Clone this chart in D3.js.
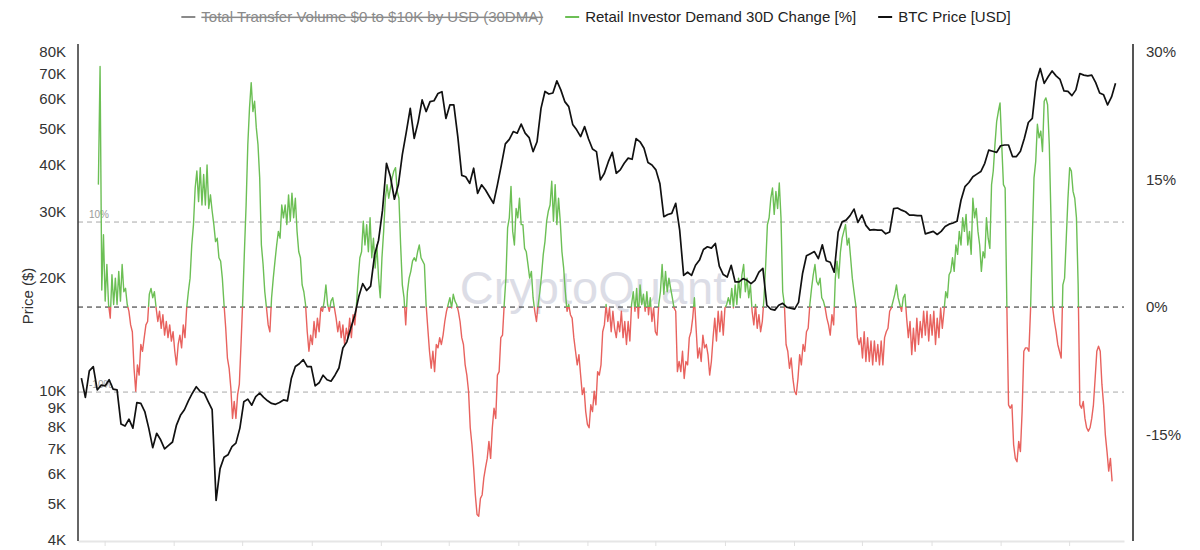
<!DOCTYPE html>
<html lang="en">
<head>
<meta charset="UTF-8">
<title>Retail Investor Demand vs BTC Price</title>
<script src="https://d3js.org/d3.v7.min.js"></script>
<style>
  body { margin: 0; background: #fff; font-family: "Liberation Sans", Arial, sans-serif; }
  .tick text { font-family: "Liberation Sans", Arial, sans-serif; }
</style>
</head>
<body>
<div id="chart"></div>
<script>
// BTC price (USD), one value per week from 2019-07-22
const btcStart = new Date(2019, 6, 22);
const btcStepDays = 7;
const btcPrice = [
  10800, 9600, 11300, 11600, 10050, 10350, 10300, 10700, 10100, 10050,
  8150, 8050, 8400, 7950, 9300, 9250, 8800, 7950, 7050, 7700,
  7400, 7000, 7150, 7300, 8100, 8600, 8900, 9400, 9850, 10250,
  9950, 9850, 9350, 8900, 5100, 6200, 6650, 6750, 7100, 7250,
  7950, 9350, 9500, 9150, 9650, 9850, 9600, 9400, 9250, 9200,
  9300, 9450, 9400,
  10800, 11600, 11800, 12100, 11600, 11600, 10300, 10500, 11000, 10700,
  10600, 11000, 11500, 13000, 13500, 14700, 15900, 17800, 19300, 18500,
  19000, 23000, 25200, 30300, 40400, 37200, 32400, 35400, 42600, 48900,
  56600, 47100, 52100, 59600, 55500, 59000, 59300, 62000, 62700, 53200,
  57800, 57800, 47600, 37500, 37200, 35700, 39200, 33600, 35400, 34300,
  32900, 31600, 35400,
  40000, 45500, 46800, 49100, 48600, 51400, 48600, 47300, 43400, 46100,
  56600, 62800, 61800, 62200, 67000, 63400, 59000, 57200, 51300, 49600,
  47600, 50600, 46900, 44100, 43400, 36500, 38000, 40800, 43200, 38000,
  38800, 40400, 41700, 41400, 47000, 46100, 44300, 40600, 40000, 38800,
  35700, 29100, 29500, 29700, 31600, 26800, 20300, 20700, 20300, 21600,
  22300, 23800, 24200,
  24000, 24700, 21500, 20400, 20100, 21600, 19500, 19500, 19900, 19700,
  19300, 19700, 20700, 21200, 16900, 16500, 16400, 16900, 17100, 16700,
  16600, 16500, 17200, 20500, 22900, 23200, 23500, 22500, 24500, 22200,
  22000, 20700, 26500, 28200, 28500, 29300, 30500, 28100, 29400, 27600,
  26800, 26900, 26800, 26800, 26200, 26500, 30600, 30700, 30300, 30000,
  29400, 29400, 29300, 29300,
  26200, 26400, 26600, 26100, 26600, 27400, 27800, 28000, 28300, 32200,
  35000, 35900, 37200, 37800, 38400, 40400, 43800, 43500, 43200, 45000,
  45200, 45200, 42100, 42100, 43500, 47100, 51900, 53200, 66600, 72300,
  66000, 68700, 71200, 69100, 67600, 63000, 62800, 61200, 63400, 70100,
  69400, 69100, 69400, 66300, 62200, 61500, 57800, 60700, 66000
];

// Retail investor demand, 30D change (%), one value every 3 days from 2019-08-21
const retailStart = new Date(2019, 7, 21);
const retailStepDays = 3;
const retailChange = [
  14.4, 28.3, 2.0, 8.5, 0.7, 5.0, 0.3, -1.3, 3.8, 0.3,
  3.4, 0.3, 4.2, 0.7, 5.0, 1.8, 2.2, 0.3, -0.5, -2.1,
  -2.9, -7.2, -9.9, -6.8, -8.0, -4.4, -5.2, -3.6, -2.1, -1.7,
  1.5, 2.2, 1.1, 1.8, -0.1, -1.7, -0.5, -2.5, -0.9, -3.3,
  -1.7, -3.6, -2.1, -4.0, -2.9, -5.2, -6.8, -4.4, -3.3, -4.8,
  -2.1, -3.6, -0.1, 1.8, 3.4, 7.3, 9.7, 14.0, 16.0, 12.4,
  16.4, 12.0, 15.6, 12.0, 16.7, 11.6, 13.2, 11.3, 9.7, 7.7,
  8.1, 5.8, 5.4, 3.4, 0.3, -2.5, -6.0, -7.2, -9.5, -13.1,
  -11.1, -13.1, -10.3, -9.1, -4.4, 0.7, 6.5, 12.0, 19.1, 23.4,
  26.4, 23.0, 24.2, 21.1, 19.1, 15.2, 7.3, 5.0, 1.8, -0.1,
  -2.1, -2.9, 1.1, 3.4, 5.4, 7.3, 8.9, 8.1, 12.0, 10.5,
  // 2020 H2
  12.0, 9.7, 13.2, 10.1, 13.4, 10.5, 12.8, 8.9, 6.5, 5.8,
  2.6, 1.8, 0.3, -2.9, -5.2, -3.3, -4.4, -1.7, -3.6, -1.3,
  -2.9, -0.1, -0.5, 0.7, 2.6, 0.3, -0.5, 0.7, 1.1, -0.1,
  -1.3, -2.9, -1.7, -3.6, -2.1, -4.4, -2.5, -3.6, -1.3, -3.6,
  -0.9, -2.1, 0.3, 3.4, 5.8, 6.5, 10.1, 7.3, 9.7, 6.5,
  10.5, 5.8, 8.1, 4.6, 7.3, 3.4, 1.1, 5.8, 8.9, 12.8,
  14.4, 12.8, 14.0, 15.2, 16.0, 16.4, 13.6, 12.8, 7.3, 2.6,
  1.1, -2.1, 1.8, 3.4, 4.2, 5.4, 5.8, 5.4, 6.5, 7.3,
  5.8, 5.4, 5.0, 0.3, -2.5, -5.2, -7.2, -5.2, -7.6, -4.4,
  -4.8, -3.6, -4.4, -3.3, -1.7, -0.5, 0.3, 1.1, -0.1, 1.5,
  0.7, 0.3, -0.5, -1.7, -3.6, -4.4, -6.8, -8.0, -9.9, -14.2,
  -16.2, -18.9, -22.1, -24.4, -24.6, -22.5, -22.1, -20.1, -18.9, -17.8,
  -15.8, -17.8, -14.2, -11.9,
  // 2021 H2 - 2022
  -13.1, -8.0, -7.6, -3.6, -3.3, 0.3, 3.4, 9.3, 10.5,
  14.2, 8.9, 7.3, 11.6, 10.5, 12.8, 9.7, 9.7, 6.9, 6.5,
  5.0, 3.4, 4.2, 1.1, -0.5, -1.7, 0.3, 1.8, 3.8, 6.2,
  7.7, 10.1, 11.3, 12.0, 14.8, 10.1, 14.4, 9.7, 12.8, 10.1,
  6.5, 4.6, 1.8, -0.5, 0.3, -0.9, -1.3, -3.6, -5.2, -6.8,
  -5.6, -8.0, -10.3, -9.5, -12.3, -13.8, -14.2, -11.5, -12.3,
  -9.9, -11.5, -7.6, -8.0, -6.8, -2.9, -2.1, 0.3, -1.7, -0.1,
  -2.9, -0.5, -2.5, -3.6, -1.7, -2.9, -0.5, -3.6, -1.7, -4.4,
  -1.7, -4.0, 0.3, 1.8, -0.5, 2.2, -1.3, 2.6, 0.3, 1.5,
  -0.5, 1.8, -0.9, 1.1, -1.7, -0.1, -2.9, -3.3, 0.3, 1.8,
  5.0, 1.5, 4.2, 1.8, 3.4, 2.2, 1.1, -0.1, -0.5, -7.6,
  -6.4, -7.6, -5.2, -8.4, -6.4, -6.8, -3.6, -2.9, -1.3, 1.1,
  -2.5, -6.0, -4.8, -6.4, -3.3, -4.8,
  // 2022 H2 - 2023
  -4.4, -5.6, -8.0, -6.4, -3.6, -1.3, -4.0, -0.5, -2.9, -0.5,
  -3.3, -0.1, 0.3, 1.1, 0.3, 2.2, -0.1, 2.6, 0.3, 3.4,
  1.1, 3.8, 5.0, 1.8, 3.4, 1.1, 2.6, -0.5, -2.1, 0.3,
  -2.5, -0.9, -2.9, -1.7, 1.1, 5.0, 9.7, 10.5, 12.8, 14.0,
  10.9, 13.6, 11.6, 14.6, 10.5, 1.8, 0.3, -4.4, -5.2,
  -7.2, -6.0, -8.4, -9.9, -10.3, -8.4, -5.6, -6.8, -4.4, -5.2,
  -2.9, -2.5, 0.3, 2.2, 3.8, 5.0, 3.0, 2.6, 3.4, 1.1,
  0.7, -0.1, -1.3, -2.1, -3.3, -0.9, -2.1, 3.4, 5.4, 3.4,
  6.5, 8.1, 8.9, 9.7, 7.3, 8.1, 5.8, 3.4, 1.8, 0.3,
  -3.6, -4.4, -3.6, -6.0, -2.9, -6.4, -3.6, -6.4, -4.0,
  -6.8, -4.0, -6.4, -4.4, -6.8, -4.0, -6.8, -3.6, -2.9, -2.5,
  -0.5, -0.1, 0.7, 1.5, 2.6, 1.1, 0.3, -0.5, 1.1, 1.5,
  -1.3, -3.6, -1.7, -5.6, -2.5, -5.2,
  // 2023 H2 - 2024
  -1.3, -4.4, -1.7, -3.6, -0.5, -3.3, -0.5, -4.0, -0.9, -3.3,
  -0.5, -4.4, -1.3, -3.6, -0.1, -2.5, -0.5, 1.8, 1.1, 3.8,
  4.2, 5.8, 4.2, 7.3, 6.2, 8.9, 7.3, 10.5, 8.9, 10.9,
  7.3, 8.9, 6.2, 12.8, 10.5, 11.6, 8.9, 7.3, 4.2, 6.5,
  5.8, 10.5, 8.1, 6.9, 14.4, 16.0, 19.1, 21.8, 23.0,
  24.0, 19.1, 14.4, 14.0, 0.3, -11.5, -11.9, -11.5, -16.2,
  -17.8, -18.2, -15.8, -17.0, -12.3, -5.2, -4.8, -4.8, -5.2, -0.1,
  8.1, 15.2, 17.1, 21.5, 19.9, 20.7, 18.3, 24.2, 24.6, 23.8,
  19.1, 10.5, -0.1, -1.7, -2.9, -4.4, -5.2, -6.0, 2.6, 3.4,
  8.1, 12.8, 16.4, 16.0, 13.6, 12.8, 10.5, 2.6, -11.5, -11.9,
  -11.1, -13.1, -14.2, -14.6, -14.2, -13.1, -11.5, -8.4, -5.2, -4.6,
  -5.2, -9.1, -11.5, -15.0, -17.0, -19.3, -17.8, -20.5
];

const priceTicks = [4000, 5000, 6000, 7000, 8000, 9000, 10000, 20000, 30000, 40000, 50000, 60000, 70000, 80000];
const pctTicks = [30, 15, 0, -15];
const refLevels = [10, -10];

const legendLabels = ["Total Transfer Volume $0 to $10K by USD (30DMA)", "Retail Investor Demand 30D Change [%]", "BTC Price [USD]"];
const legendColors = ["#8a8a8a", "#6cbf55", "#111111"];
const legendHidden = [true, false, false];

const width = 1200, height = 550;
const plotLeft = 78, plotRight = 1124, rightAxisX = 1133;
const plotTop = 44, plotBottom = 541;

const svg = d3.select("#chart").append("svg")
  .attr("width", width)
  .attr("height", height);

const x = d3.scaleTime()
  .domain([new Date(2019, 6, 16), new Date(2024, 7, 6)])
  .range([plotLeft, plotRight]);

const yPrice = d3.scaleLog().domain([4000, 80000]).range([540, 52]);
const yPct = d3.scaleLinear().domain([-27.4, 30]).range([540, 52]);

const btcData = btcPrice.map((v, i) => ({ date: d3.timeDay.offset(btcStart, i * btcStepDays), value: v }));
const retailData = retailChange.map((v, i) => ({ date: d3.timeDay.offset(retailStart, i * retailStepDays), value: v }));

// watermark
svg.append("text")
  .attr("x", 593)
  .attr("y", 304)
  .attr("text-anchor", "middle")
  .attr("font-size", 47)
  .attr("fill", "#dcdde6")
  .text("CryptoQuant");

// reference lines at +-10% and 0%
svg.selectAll(".ref")
  .data(refLevels)
  .join("line")
  .attr("class", "ref")
  .attr("x1", plotLeft).attr("x2", plotRight)
  .attr("y1", d => yPct(d)).attr("y2", d => yPct(d))
  .attr("stroke", "#a8a8a8")
  .attr("stroke-width", 1)
  .attr("stroke-dasharray", "5,4");

svg.selectAll(".ref-label")
  .data(refLevels)
  .join("text")
  .attr("class", "ref-label")
  .attr("x", 89)
  .attr("y", d => yPct(d) - 4)
  .attr("font-size", 10)
  .attr("fill", "#9a9a9a")
  .text(d => d + "%");

svg.append("line")
  .attr("x1", plotLeft).attr("x2", plotRight)
  .attr("y1", yPct(0)).attr("y2", yPct(0))
  .attr("stroke", "#222")
  .attr("stroke-width", 1)
  .attr("stroke-dasharray", "5,4");

// bottom axis (ticks only)
svg.append("g")
  .attr("transform", `translate(0,${plotBottom})`)
  .call(d3.axisBottom(x).ticks(d3.timeMonth.every(4)).tickFormat("").tickSize(5).tickSizeOuter(0))
  .call(g => g.select(".domain").attr("stroke", "#e6e6e6").attr("stroke-width", 2))
  .call(g => g.selectAll(".tick line").attr("stroke", "#e0e0e0"));

// retail demand line, green above zero and red below
const defs = svg.append("defs");
defs.append("clipPath").attr("id", "clip-pos")
  .append("rect").attr("x", 0).attr("y", 0).attr("width", width).attr("height", yPct(0));
defs.append("clipPath").attr("id", "clip-neg")
  .append("rect").attr("x", 0).attr("y", yPct(0)).attr("width", width).attr("height", height - yPct(0));

const retailLine = d3.line()
  .x(d => x(d.date))
  .y(d => yPct(d.value));

svg.append("path")
  .datum(retailData)
  .attr("clip-path", "url(#clip-pos)")
  .attr("fill", "none")
  .attr("stroke", "#6cbf55")
  .attr("stroke-width", 1.4)
  .attr("stroke-linejoin", "round")
  .attr("d", retailLine);

svg.append("path")
  .datum(retailData)
  .attr("clip-path", "url(#clip-neg)")
  .attr("fill", "none")
  .attr("stroke", "#e8625e")
  .attr("stroke-width", 1.4)
  .attr("stroke-linejoin", "round")
  .attr("d", retailLine);

// BTC price line
const btcLine = d3.line()
  .x(d => x(d.date))
  .y(d => yPrice(d.value));

svg.append("path")
  .datum(btcData)
  .attr("fill", "none")
  .attr("stroke", "#111")
  .attr("stroke-width", 1.7)
  .attr("stroke-linejoin", "round")
  .attr("d", btcLine);

// left axis
svg.append("g")
  .attr("transform", `translate(${plotLeft},0)`)
  .call(d3.axisLeft(yPrice).tickValues(priceTicks).tickFormat(d => d / 1000 + "K").tickSize(0).tickPadding(12))
  .call(g => g.select(".domain").remove())
  .call(g => g.selectAll("text").attr("font-size", 15).attr("fill", "#333"));

svg.append("line")
  .attr("x1", plotLeft).attr("x2", plotLeft)
  .attr("y1", plotTop).attr("y2", plotBottom)
  .attr("stroke", "#333")
  .attr("stroke-width", 1.5);

svg.append("text")
  .attr("transform", "translate(33,296) rotate(-90)")
  .attr("text-anchor", "middle")
  .attr("font-size", 15)
  .attr("fill", "#333")
  .text("Price ($)");

// right axis
svg.append("g")
  .attr("transform", `translate(${rightAxisX},0)`)
  .call(d3.axisRight(yPct).tickValues(pctTicks).tickFormat(d => d + "%").tickSize(0).tickPadding(13))
  .call(g => g.select(".domain").remove())
  .call(g => g.selectAll("text").attr("font-size", 15).attr("fill", "#333"));

svg.append("line")
  .attr("x1", rightAxisX).attr("x2", rightAxisX)
  .attr("y1", plotTop).attr("y2", plotBottom)
  .attr("stroke", "#555")
  .attr("stroke-width", 2);

// legend
const legend = svg.append("g");
let cursor = 0;
legendLabels.forEach((label, i) => {
  const item = legend.append("g").attr("transform", `translate(${cursor},0)`);
  item.append("line")
    .attr("x1", 0).attr("x2", 14)
    .attr("y1", 0).attr("y2", 0)
    .attr("stroke", legendColors[i])
    .attr("stroke-width", 2);
  const t = item.append("text")
    .attr("x", 20)
    .attr("y", 5)
    .attr("font-size", 15)
    .attr("fill", legendHidden[i] ? "#8a8a8a" : "#222")
    .attr("text-decoration", legendHidden[i] ? "line-through" : null)
    .text(label);
  cursor += 20 + t.node().getComputedTextLength() + 22;
});
const legendWidth = cursor - 22;
legend.attr("transform", `translate(${596 - legendWidth / 2},17)`);
</script>
</body>
</html>
